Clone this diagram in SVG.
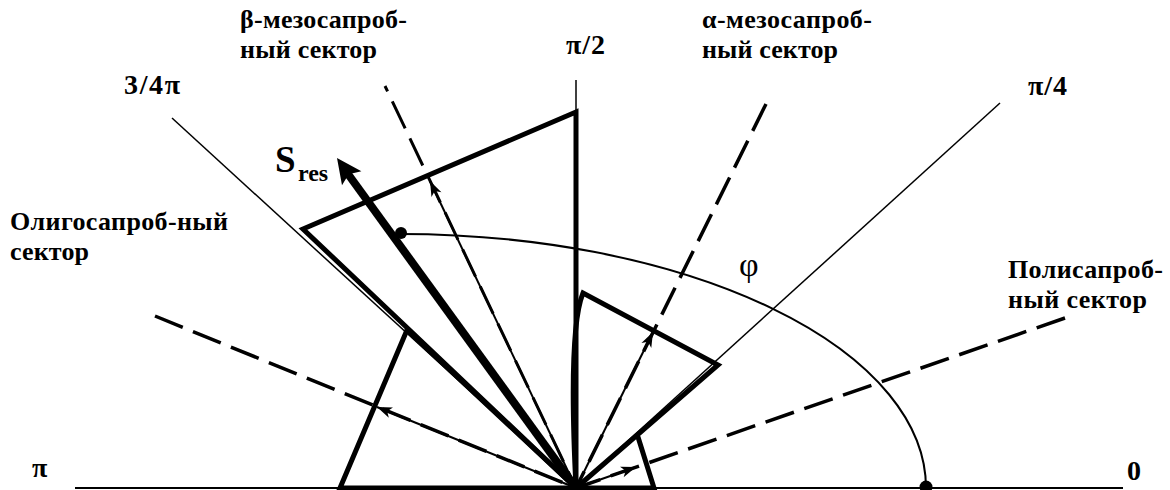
<svg xmlns="http://www.w3.org/2000/svg" width="1170" height="490" viewBox="0 0 1170 490">
<style>
.lbl{font-family:"Liberation Serif","Times New Roman",serif;font-weight:bold;font-size:26px;fill:#000}
.ang{font-family:"Liberation Serif","Times New Roman",serif;font-weight:bold;font-size:28px;fill:#000}
.thin{stroke:#000;stroke-width:1.5;fill:none}
.dash{stroke:#000;stroke-width:3.5;fill:none;stroke-dasharray:30 11}
.arr{stroke:#000;stroke-width:2;fill:none;marker-end:url(#ah)}
.thick{stroke:#000;stroke-width:5;fill:none;stroke-linejoin:miter;stroke-linecap:round}
</style>
<defs>
<marker id="ah" viewBox="-16 -6 17 12" markerWidth="17" markerHeight="12" refX="0" refY="0" orient="auto" markerUnits="userSpaceOnUse">
<path d="M0,0 L-15,-5.5 L-11,0 L-15,5.5 Z" fill="#000"/>
</marker>
</defs>
<rect width="1170" height="490" fill="#fff"/>

<g id="axes">
<line class="thin" x1="75" y1="488" x2="1123" y2="488" style="stroke-width:2.2"/>
<line class="thin" x1="576" y1="80" x2="576" y2="112"/>
<line class="thin" x1="172" y1="118" x2="576" y2="488"/>
<line class="thin" x1="1000" y1="103" x2="576" y2="488"/>
</g>

<g id="connectors">
<line class="dash" x1="385" y1="86" x2="576" y2="488" style="stroke-width:3;stroke-dashoffset:24"/>
<line class="dash" x1="766" y1="104" x2="576" y2="488"/>
<line class="dash" x1="155" y1="316" x2="576" y2="488"/>
<line class="dash" x1="1065" y1="318" x2="576" y2="488"/>
<line class="arr" x1="576" y1="488" x2="430" y2="181"/>
<line class="arr" x1="576" y1="488" x2="653" y2="332"/>
<line class="arr" x1="576" y1="488" x2="377" y2="407"/>
<line class="arr" x1="576" y1="488" x2="636" y2="467"/>
</g>

<g id="polygons">
<path class="thick" d="M576,488 L576,112 L303,229 L576,488"/>
<path class="thick" d="M576,488 Q568,330 583,293 L718,365 L576,488"/>
<path class="thick" d="M576,488 L407,330 L340,488 Z"/>
<path class="thick" d="M638,437 L654,488 L576,488"/>
</g>

<g id="sres">
<line x1="576" y1="488" x2="348" y2="174" stroke="#000" stroke-width="8"/>
<polygon points="337,158 361.4,171.3 348.7,174.2 342,185.3" fill="#000"/>
<text x="275" y="172" style="font-family:'Liberation Serif',serif;font-weight:bold;font-size:37px">S</text>
<text x="298" y="181" style="font-family:'Liberation Serif',serif;font-weight:bold;font-size:24px">res</text>
</g>

<g id="arc">
<path d="M400,234 A526,254 0 0 1 926,488" stroke="#000" stroke-width="2" fill="none"/>
<circle cx="401" cy="233" r="6" fill="#000"/>
<circle cx="926" cy="487" r="6.5" fill="#000"/>
<text x="739" y="276" style="font-family:'Liberation Serif',serif;font-size:34px">φ</text>
</g>

<g id="labels">
<text class="ang" x="566" y="54" textLength="39" lengthAdjust="spacing">π/2</text>
<text class="ang" x="1028" y="95" textLength="39" lengthAdjust="spacing">π/4</text>
<text class="ang" x="124" y="94" textLength="56" lengthAdjust="spacing">3/4π</text>
<text class="ang" x="32" y="477">π</text>
<text class="ang" x="1127" y="480">0</text>
<text class="lbl" x="240" y="28" textLength="167" lengthAdjust="spacing">β-мезосапроб-</text>
<text class="lbl" x="240" y="58" textLength="137" lengthAdjust="spacing">ный сектор</text>
<text class="lbl" x="702" y="28" textLength="170" lengthAdjust="spacing">α-мезосапроб-</text>
<text class="lbl" x="702" y="58" textLength="136" lengthAdjust="spacing">ный сектор</text>
<text class="lbl" x="10" y="230" textLength="218" lengthAdjust="spacing">Олигосапроб-ный</text>
<text class="lbl" x="10" y="260" textLength="79" lengthAdjust="spacing">сектор</text>
<text class="lbl" x="1008" y="278" textLength="155" lengthAdjust="spacing">Полисапроб-</text>
<text class="lbl" x="1008" y="308" textLength="139" lengthAdjust="spacing">ный сектор</text>
</g>
</svg>
